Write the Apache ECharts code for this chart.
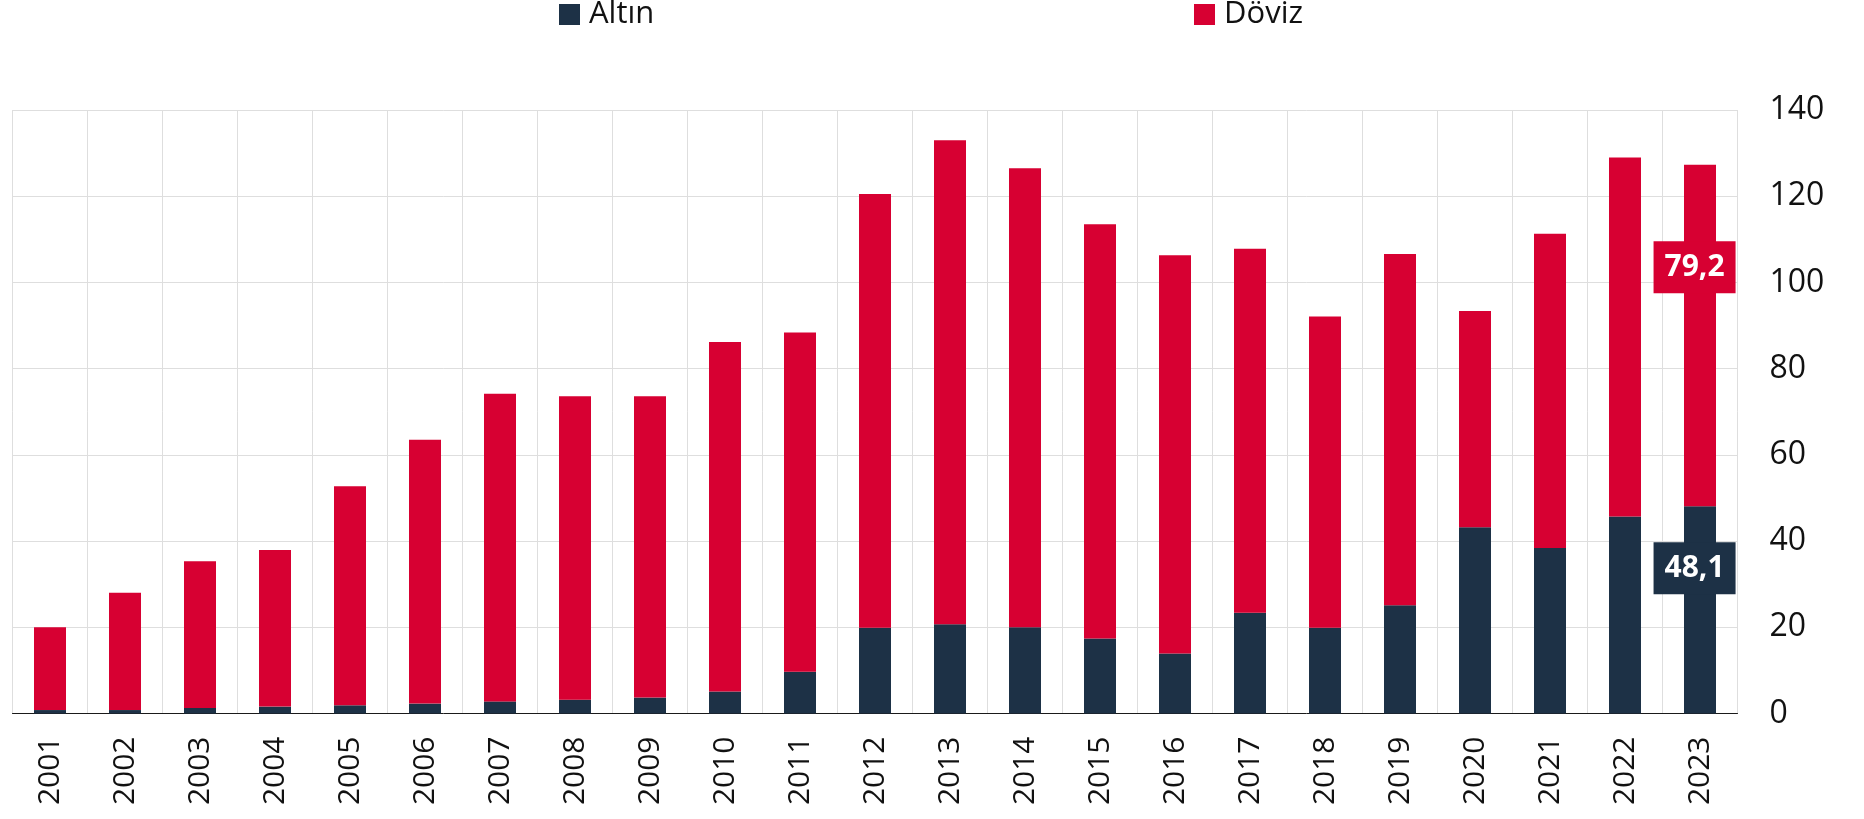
<!DOCTYPE html>
<html>
<head>
<meta charset="utf-8">
<script src="https://cdn.jsdelivr.net/npm/echarts@6/dist/echarts.min.js"></script>
<style>
  html, body { margin: 0; padding: 0; background: #ffffff; }
  #chart { width: 1864px; height: 819px; }
</style>
</head>
<body>
<div id="chart"></div>
<script>
// Years on the category axis
const years = ['2001','2002','2003','2004','2005','2006','2007','2008','2009','2010','2011','2012',
               '2013','2014','2015','2016','2017','2018','2019','2020','2021','2022','2023'];

// Gold reserves (Altın)
const altin = [0.8, 0.8, 1.3, 1.6, 1.9, 2.3, 2.8, 3.2, 3.7, 5.1, 9.7, 19.9,
               20.7, 20.0, 17.4, 13.9, 23.4, 19.9, 25.1, 43.2, 38.4, 45.7, 48.1];

// Foreign currency reserves (Döviz)
const doviz = [19.2, 27.2, 34.0, 36.3, 50.8, 61.2, 71.4, 70.4, 69.9, 81.1, 78.7, 100.6,
               112.3, 106.5, 96.1, 92.4, 84.4, 72.2, 81.5, 50.2, 72.9, 83.3, 79.2];

// Value axis ticks
const yTicks = [0, 20, 40, 60, 80, 100, 120, 140];

const NAVY = '#1d3146';
const RED = '#d70032';
const FONT = 'Open Sans';

function fmt(v) { return v.toFixed(1).replace('.', ','); }

// Only the latest year carries a value label
function withLastLabel(values, bg) {
  return values.map((v, i) => {
    if (i !== values.length - 1) return v;
    return {
      value: v,
      label: {
        show: true,
        position: ['33%', '30%'],
        align: 'center',
        verticalAlign: 'middle',
        formatter: (p) => fmt(p.value),
        color: '#ffffff',
        fontFamily: FONT,
        fontWeight: 'bold',
        fontSize: 30,
        lineHeight: 30,
        backgroundColor: bg,
        padding: [11, 11, 11, 11]
      }
    };
  });
}

const chart = echarts.init(document.getElementById('chart'), null, { renderer: 'canvas' });

const legendText = { color: '#111111', fontFamily: FONT, fontSize: 31, padding: [0, 0, 0, 4] };

chart.setOption({
  animation: false,
  backgroundColor: '#ffffff',
  legend: [
    {
      data: ['Altın'], left: 559, top: -1, padding: 0,
      itemWidth: 21, itemHeight: 21, itemGap: 5, icon: 'rect',
      textStyle: legendText
    },
    {
      data: ['Döviz'], left: 1194, top: -1, padding: 0,
      itemWidth: 21, itemHeight: 21, itemGap: 5, icon: 'rect',
      textStyle: legendText
    }
  ],
  grid: { left: 12.5, right: 126.5, top: 110, bottom: 105.5, containLabel: false },
  xAxis: {
    type: 'category',
    data: years,
    boundaryGap: true,
    axisLine: { show: true, lineStyle: { color: '#1a1a1a', width: 1 } },
    axisTick: { show: false },
    splitLine: { show: true, interval: 0, lineStyle: { color: '#dedede', width: 1 } },
    axisLabel: {
      rotate: 90, interval: 0, margin: 23,
      color: '#111111', fontFamily: FONT, fontSize: 30
    }
  },
  yAxis: {
    type: 'value',
    position: 'right',
    min: yTicks[0],
    max: yTicks[yTicks.length - 1],
    interval: yTicks[1] - yTicks[0],
    axisLine: { show: false },
    axisTick: { show: false },
    splitLine: { show: true, lineStyle: { color: '#dedede', width: 1 } },
    axisLabel: {
      margin: 32, align: 'left',
      color: '#111111', fontFamily: FONT, fontSize: 32
    }
  },
  series: [
    {
      name: 'Altın', type: 'bar', stack: 'rezerv', barWidth: 32,
      itemStyle: { color: NAVY },
      data: withLastLabel(altin, NAVY)
    },
    {
      name: 'Döviz', type: 'bar', stack: 'rezerv', barWidth: 32,
      itemStyle: { color: RED },
      data: withLastLabel(doviz, RED)
    }
  ]
});
</script>
</body>
</html>
